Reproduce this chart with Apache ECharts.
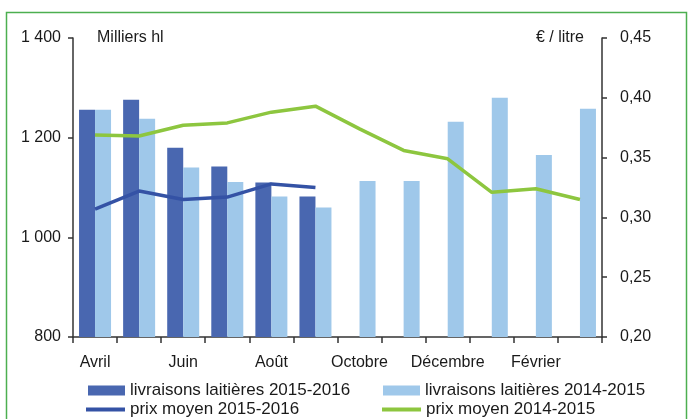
<!DOCTYPE html>
<html>
<head>
<meta charset="utf-8">
<script src="https://cdn.jsdelivr.net/npm/echarts@6/dist/echarts.min.js"></script>
<style>
  html, body { margin: 0; padding: 0; background: #fff; }
  #chart { width: 691px; height: 419px; }
</style>
</head>
<body>
<div id="chart"></div>
<script>
// mois de la campagne laitière (avril -> mars)
const months = ['Avril', 'Mai', 'Juin', 'Juillet', 'Août', 'Septembre', 'Octobre', 'Novembre', 'Décembre', 'Janvier', 'Février', 'Mars'];

// livraisons (milliers hl)
const livraisons1516 = [1256, 1276, 1180, 1142, 1110, 1082];
const livraisons1415 = [1256, 1238, 1140, 1111, 1082, 1060, 1113, 1113, 1232, 1280, 1165, 1258];

// prix moyen (€ / litre)
const prix1516 = [0.307, 0.322, 0.315, 0.317, 0.328, 0.325];
const prix1415 = [0.369, 0.368, 0.377, 0.379, 0.388, 0.393, 0.374, 0.356, 0.349, 0.321, 0.324, 0.315];

const leftTicks = ['800', '1 000', '1 200', '1 400'];
const rightTicks = ['0,20', '0,25', '0,30', '0,35', '0,40', '0,45'];

const FONT = '"Liberation Sans", Arial, sans-serif';
const TXT = '#1a1a1a';
const AXIS = '#333333';

const chart = echarts.init(document.getElementById('chart'));

const legendBase = {
  orient: 'horizontal',
  selectedMode: false,
  padding: 0,
  itemWidth: 37,
  textStyle: { color: TXT, fontSize: 17, fontFamily: FONT },
};

const option = {
  animation: false,
  grid: {
    left: 73,
    right: 89,
    top: 38,
    bottom: 82,
  },
  graphic: [
    {
      type: 'rect',
      shape: { x: 6.5, y: 12.5, width: 680, height: 430 },
      style: { fill: 'none', stroke: '#4caf50', lineWidth: 1.5 },
      silent: true,
    },
    {
      type: 'text',
      left: 97,
      top: 30,
      style: { text: 'Milliers hl', fill: TXT, font: '16px ' + FONT },
    },
    {
      type: 'text',
      right: 107,
      top: 30,
      style: { text: '€ / litre', fill: TXT, font: '16px ' + FONT },
    },
  ],
  legend: [
    Object.assign({}, legendBase, {
      left: 88, top: 382, itemHeight: 10,
      data: [{ name: 'livraisons laitières 2015-2016', icon: 'rect' }],
    }),
    Object.assign({}, legendBase, {
      left: 383, top: 382, itemHeight: 10,
      data: [{ name: 'livraisons laitières 2014-2015', icon: 'rect' }],
    }),
    Object.assign({}, legendBase, {
      left: 86, top: 401, itemWidth: 39, itemHeight: 4,
      data: [{ name: 'prix moyen 2015-2016', icon: 'rect' }],
    }),
    Object.assign({}, legendBase, {
      left: 382, top: 401, itemWidth: 39, itemHeight: 4,
      data: [{ name: 'prix moyen 2014-2015', icon: 'rect' }],
    }),
  ],
  xAxis: {
    type: 'category',
    data: months,
    boundaryGap: true,
    axisLine: { lineStyle: { color: AXIS, width: 1.5 } },
    axisTick: {
      show: true,
      interval: 0,
      alignWithLabel: false,
      inside: false,
      length: 6,
      lineStyle: { color: AXIS, width: 1.5 },
    },
    axisLabel: {
      interval: 1,
      margin: 18,
      color: TXT,
      fontSize: 16,
      fontFamily: FONT,
    },
    splitLine: { show: false },
  },
  yAxis: [
    {
      type: 'value',
      min: 800,
      max: 1400,
      interval: 200,
      axisLine: { show: true, lineStyle: { color: AXIS, width: 1.5 } },
      axisTick: { show: true, length: 5, lineStyle: { color: AXIS, width: 1.5 } },
      axisLabel: {
        margin: 12,
        color: TXT,
        fontSize: 16,
        fontFamily: FONT,
        formatter: (v, i) => leftTicks[i],
      },
      splitLine: { show: false },
    },
    {
      type: 'value',
      min: 0.2,
      max: 0.45,
      interval: 0.05,
      position: 'right',
      axisLine: { show: true, lineStyle: { color: AXIS, width: 1.5 } },
      axisTick: { show: true, length: 5, lineStyle: { color: AXIS, width: 1.5 } },
      axisLabel: {
        margin: 18,
        color: TXT,
        fontSize: 16,
        fontFamily: FONT,
        formatter: (v, i) => rightTicks[i],
      },
      splitLine: { show: false },
    },
  ],
  series: [
    {
      name: 'livraisons laitières 2015-2016',
      type: 'bar',
      yAxisIndex: 0,
      data: livraisons1516,
      barWidth: 16,
      barGap: 0,
      itemStyle: { color: '#4967b0' },
    },
    {
      name: 'livraisons laitières 2014-2015',
      type: 'bar',
      yAxisIndex: 0,
      data: livraisons1415,
      barWidth: 16,
      barGap: 0,
      itemStyle: { color: '#9fc8ea' },
    },
    {
      name: 'prix moyen 2015-2016',
      type: 'line',
      yAxisIndex: 1,
      data: prix1516,
      showSymbol: false,
      symbol: 'none',
      z: 3,
      lineStyle: { color: '#3452a5', width: 3.5 },
      itemStyle: { color: '#3452a5' },
    },
    {
      name: 'prix moyen 2014-2015',
      type: 'line',
      yAxisIndex: 1,
      data: prix1415,
      showSymbol: false,
      symbol: 'none',
      z: 3,
      lineStyle: { color: '#8dc63f', width: 3.5 },
      itemStyle: { color: '#8dc63f' },
    },
  ],
};

chart.setOption(option);
</script>
</body>
</html>
